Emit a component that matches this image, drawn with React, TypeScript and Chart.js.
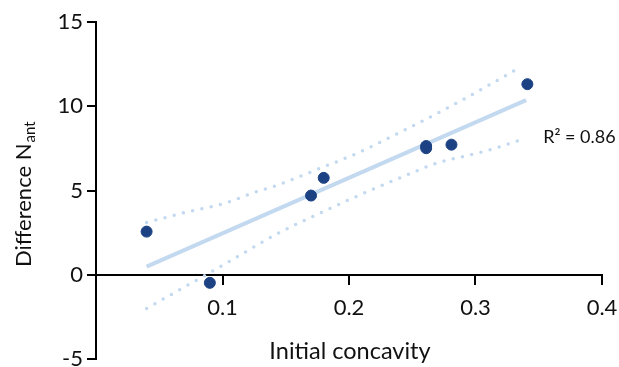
import React, { useEffect, useRef } from 'react';
import { Chart, registerables } from 'chart.js';

Chart.register(...registerables);

// Observed data points
const POINT_X = [0.040, 0.090, 0.170, 0.180, 0.261, 0.261, 0.281, 0.341];
const POINT_Y = [2.56, -0.48, 4.70, 5.75, 7.64, 7.51, 7.72, 11.31];

// Regression line (read endpoints)
const REG_X = [0.04, 0.34];
const REG_Y = [0.48, 10.36];

// Upper confidence band
const UPPER_X = [0.040, 0.071, 0.102, 0.125, 0.142, 0.1775, 0.207, 0.243, 0.279, 0.307, 0.336];
const UPPER_Y = [3.10, 3.71, 4.25, 4.88, 5.28, 6.33, 7.23, 8.55, 9.94, 11.10, 12.35];

// Lower confidence band
const LOWER_X = [0.040, 0.068, 0.089, 0.111, 0.144, 0.174, 0.203, 0.246, 0.269, 0.307, 0.340];
const LOWER_Y = [-2.0, -0.81, 0.08, 1.04, 2.46, 3.55, 4.55, 5.93, 6.61, 7.32, 8.10];

const X_TICKS = [0.1, 0.2, 0.3, 0.4];
const Y_TICKS = [-5, 0, 5, 10, 15];

const X_TITLE = 'Initial concavity';
const Y_TITLE_MAIN = 'Difference N';
const Y_TITLE_SUB = 'ant';
const R2_LABEL = 'R² = 0.86';

const FONT = 'Lato';
const TEXT_COLOR = '#111';

const zip = (xs: number[], ys: number[]) => xs.map((x, i) => ({ x, y: ys[i] }));

const textPlugin = {
  id: 'textPlugin',
  afterDraw(chart: any) {
    const { ctx, chartArea, scales } = chart;
    ctx.save();
    ctx.fillStyle = TEXT_COLOR;
    // X title
    ctx.font = `23.5px ${FONT}`;
    ctx.textAlign = 'center';
    ctx.textBaseline = 'alphabetic';
    ctx.fillText(X_TITLE, (chartArea.left + chartArea.right) / 2 + 1, chartArea.bottom);

    // Y title with subscript
    ctx.save();
    ctx.translate(31, 267);
    ctx.rotate(-Math.PI / 2);
    ctx.textAlign = 'left';
    ctx.font = `22px ${FONT}`;
    const wMain = ctx.measureText(Y_TITLE_MAIN).width;
    ctx.fillText(Y_TITLE_MAIN, 0, 0);
    ctx.font = `15px ${FONT}`;
    ctx.fillText(Y_TITLE_SUB, wMain + 1, 4);
    ctx.restore();

    // R² label
    ctx.font = `18px ${FONT}`;
    ctx.textAlign = 'left';
    ctx.fillText(R2_LABEL, scales.x.getPixelForValue(0.3535), scales.y.getPixelForValue(7.8));
    ctx.restore();
  },
};

export default function App() {
  const ref = useRef<HTMLCanvasElement>(null);
  useEffect(() => {
    Chart.defaults.font.family = FONT;
    const chart = new Chart(ref.current!, {
      type: 'scatter',
      data: {
        datasets: [
          {
            data: zip(POINT_X, POINT_Y),
            backgroundColor: '#1C4283',
            borderColor: '#1C4283',
            pointRadius: 5.5,
            pointHoverRadius: 5.5,
            order: 0,
          },
          {
            data: zip(REG_X, REG_Y),
            showLine: true,
            borderColor: '#C3D9F0',
            borderWidth: 4,
            pointRadius: 0,
            order: 1,
          },
          {
            data: zip(UPPER_X, UPPER_Y),
            showLine: true,
            borderColor: '#C3D9F0',
            borderWidth: 3.5,
            borderDash: [0, 9.5],
            borderCapStyle: 'round',
            cubicInterpolationMode: 'monotone',
            pointRadius: 0,
            order: 2,
          },
          {
            data: zip(LOWER_X, LOWER_Y),
            showLine: true,
            borderColor: '#C3D9F0',
            borderWidth: 3.5,
            borderDash: [0, 9.5],
            borderCapStyle: 'round',
            cubicInterpolationMode: 'monotone',
            pointRadius: 0,
            order: 3,
          },
        ] as any,
      },
      options: {
        responsive: false,
        animation: false,
        devicePixelRatio: 1,
        layout: { padding: { left: 0, top: 22, right: 17, bottom: 8 } },
        plugins: { legend: { display: false }, tooltip: { enabled: false } },
        scales: {
          x: {
            type: 'linear',
            position: { y: 0 } as any,
            min: 0,
            max: 0.4,
            afterBuildTicks: (scale: any) => {
              scale.ticks = X_TICKS.map((v) => ({ value: v }));
            },
            afterFit: (scale: any) => {
              scale.height = 0;
              scale.paddingLeft = 0;
              scale.paddingRight = 0;
            },
            grid: {
              drawOnChartArea: false,
              drawTicks: true,
              tickLength: 9,
              color: '#000',
              tickColor: '#000',
              lineWidth: 2,
            },
            border: { display: true, color: '#000', width: 2 },
            ticks: {
              color: TEXT_COLOR,
              font: { size: 22, family: FONT },
              padding: 11,
              maxRotation: 0,
              callback: (v: any) => String(v),
            },
          },
          y: {
            type: 'linear',
            position: 'left',
            min: -5,
            max: 15,
            afterBuildTicks: (scale: any) => {
              scale.ticks = Y_TICKS.map((v) => ({ value: v }));
            },
            afterFit: (scale: any) => {
              scale.width = 96;
              scale.paddingTop = 0;
              scale.paddingBottom = 0;
            },
            grid: {
              drawOnChartArea: false,
              drawTicks: true,
              tickLength: 9,
              color: '#000',
              tickColor: '#000',
              lineWidth: 2,
            },
            border: { display: true, color: '#000', width: 2 },
            ticks: {
              color: TEXT_COLOR,
              font: { size: 22, family: FONT },
              padding: 4,
              callback: (v: any) => String(v),
            },
          },
        },
      },
      plugins: [textPlugin],
    });
    return () => chart.destroy();
  }, []);
  return (
    <div style={{ position: 'absolute', left: 0, top: 0, width: 619, height: 367 }}>
      <canvas ref={ref} width={619} height={367} style={{ display: 'block' }} />
    </div>
  );
}
